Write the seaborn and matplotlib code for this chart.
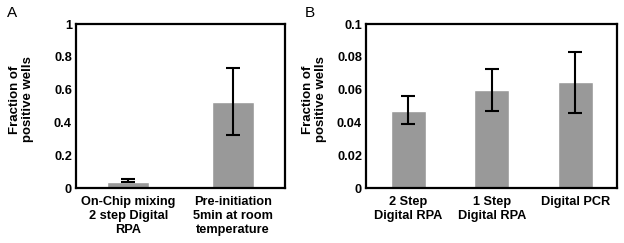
import pandas as pd
import numpy as np
import matplotlib
matplotlib.use('Agg')
import matplotlib.pyplot as plt
import seaborn as sns

# data
cats_a = ['On-Chip mixing\n2 step Digital\nRPA', 'Pre-initiation\n5min at room\ntemperature']
vals_a = [0.036, 0.522]
low_a = [0.036, 0.323]
high_a = [0.054, 0.731]

cats_b = ['2 Step\nDigital RPA', '1 Step\nDigital RPA', 'Digital PCR']
vals_b = [0.047, 0.0596, 0.0648]
low_b = [0.0388, 0.047, 0.0459]
high_b = [0.0559, 0.0726, 0.0827]

sns.set_style('white')
plt.rcParams['font.family'] = ['Liberation Sans', 'DejaVu Sans']
plt.rcParams.update({'text.color': 'black', 'axes.labelcolor': 'black',
                     'xtick.color': 'black', 'ytick.color': 'black'})

fig = plt.figure(figsize=(6.24, 2.43), dpi=100)
ax_a = fig.add_axes([0.122, 0.226, 0.335, 0.675])
ax_b = fig.add_axes([0.587, 0.226, 0.402, 0.675])


def draw(ax, cats, vals, low, high, width, ymax, yticks, ylabels):
    df = pd.DataFrame({'cat': cats, 'val': vals})
    sns.barplot(data=df, x='cat', y='val', color='#999999', saturation=1,
                width=width, ax=ax)
    x = np.arange(len(cats))
    mid = (np.array(low) + np.array(high)) / 2
    err = [mid - np.array(low), np.array(high) - mid]
    ax.errorbar(x, mid, yerr=err, fmt='none', ecolor='black',
                elinewidth=1.5, capsize=4.7, capthick=1.5)
    ax.set_xlim(-0.5, len(cats) - 0.5)
    ax.set_ylim(0, ymax)
    ax.set_yticks(yticks)
    ax.set_yticklabels(ylabels, fontsize=9.2, fontweight='bold')
    ax.set_xticks(x)
    ax.set_xticklabels(cats, fontsize=9.2, fontweight='bold', linespacing=1.2)
    ax.set_xlabel('')
    ax.set_ylabel('Fraction of\npositive wells', fontsize=9.5, fontweight='bold',
                  linespacing=1.15)
    for s in ax.spines.values():
        s.set_linewidth(1.6)
        s.set_color('black')
    ax.tick_params(axis='y', direction='in', length=2, width=0.8, pad=3)
    ax.tick_params(axis='x', length=0, pad=6)


draw(ax_a, cats_a, vals_a, low_a, high_a, 0.40, 1.0,
     [0, 0.2, 0.4, 0.6, 0.8, 1], ['0', '0.2', '0.4', '0.6', '0.8', '1'])
draw(ax_b, cats_b, vals_b, low_b, high_b, 0.42, 0.1,
     [0, 0.02, 0.04, 0.06, 0.08, 0.1], ['0', '0.02', '0.04', '0.06', '0.08', '0.1'])

ax_a.yaxis.set_label_coords(-0.2, 0.54)
ax_b.yaxis.set_label_coords(-0.155, 0.54)

fig.text(0.019, 0.945, 'A', fontsize=11, va='center', ha='center')
fig.text(0.497, 0.945, 'B', fontsize=11, va='center', ha='center')

fig.savefig('out.png', dpi=100)
